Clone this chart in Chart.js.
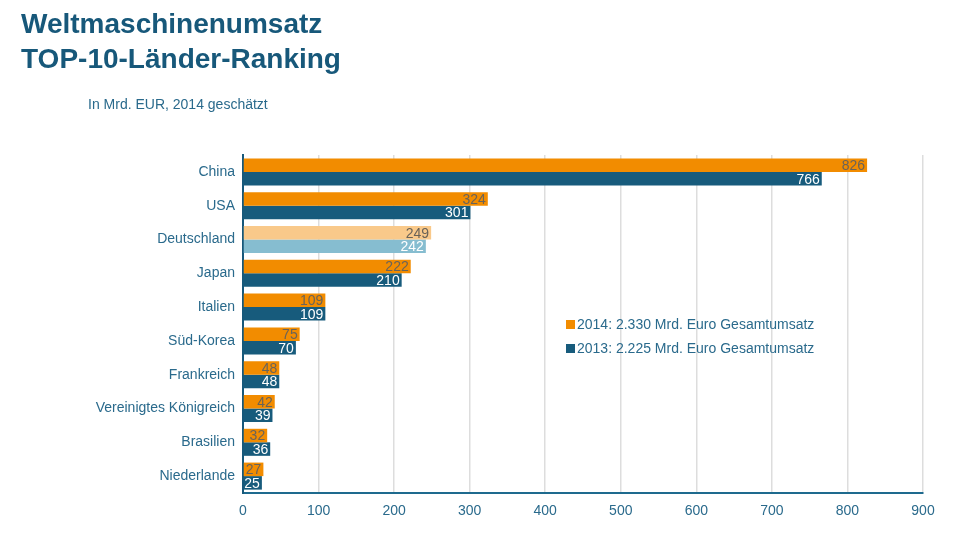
<!DOCTYPE html>
<html><head><meta charset="utf-8">
<script src="https://cdn.jsdelivr.net/npm/chart.js@4.4.1/dist/chart.umd.min.js"></script>
<style>
html,body{margin:0;padding:0;background:#fff;}
#wrap{position:relative;width:960px;height:539px;font-family:"Liberation Sans",Arial,sans-serif;}
#c{position:absolute;left:0;top:0;}
.t{position:absolute;left:21px;color:#17587A;font-weight:bold;font-size:28px;line-height:32px;}
.sub{position:absolute;left:88px;top:96px;color:#2A6A8C;font-size:14px;}
.leg{position:absolute;left:566px;color:#2A6A8C;font-size:14px;line-height:16px;}
.leg span{display:inline-block;width:9px;height:9px;margin-right:2px;vertical-align:0px;}
</style></head>
<body><div id="wrap">
<canvas id="c" width="960" height="539"></canvas>
<div class="t" style="top:8px">Weltmaschinenumsatz</div>
<div class="t" style="top:43px">TOP-10-Länder-Ranking</div>
<div class="sub">In Mrd. EUR, 2014 geschätzt</div>
<div class="leg" style="top:316px"><span style="background:#F28C00"></span>2014: 2.330 Mrd. Euro Gesamtumsatz</div>
<div class="leg" style="top:340px"><span style="background:#175B7C"></span>2013: 2.225 Mrd. Euro Gesamtumsatz</div>
</div>
<script>
const categories = ["China","USA","Deutschland","Japan","Italien","Süd-Korea","Frankreich","Vereinigtes Königreich","Brasilien","Niederlande"];
const values2014 = [826,324,249,222,109,75,48,42,32,27];
const values2013 = [766,301,242,210,109,70,48,39,36,25];
const xTicks = [0,100,200,300,400,500,600,700,800,900];

const ORANGE="#F28C00", ORANGE_L="#F9C98A", TEAL="#175B7C", TEAL_L="#86BDD0";
const hi = categories.map(c => c==="Deutschland");
const FONT='"Liberation Sans", Arial, sans-serif';

const labelPlugin = {
  id:'barLabels',
  afterDatasetsDraw(chart){
    const ctx=chart.ctx;
    ctx.save();
    ctx.font='14px '+FONT;
    ctx.textAlign='right';
    ctx.textBaseline='middle';
    chart.data.datasets.forEach((ds,di)=>{
      const meta=chart.getDatasetMeta(di);
      meta.data.forEach((bar,i)=>{
        ctx.fillStyle = di===0 ? "#6A6358" : "#FFFFFF";
        ctx.fillText(String(ds.data[i]), bar.x-2, bar.y+1);
      });
    });
    ctx.restore();
  }
};

new Chart(document.getElementById('c'),{
  type:'bar',
  data:{
    labels:categories,
    datasets:[
      {label:'2014',data:values2014,backgroundColor:hi.map(h=>h?ORANGE_L:ORANGE),categoryPercentage:0.8,barPercentage:1},
      {label:'2013',data:values2013,backgroundColor:hi.map(h=>h?TEAL_L:TEAL),categoryPercentage:0.8,barPercentage:1}
    ]
  },
  options:{
    indexAxis:'y',
    responsive:false,
    animation:false,
    layout:{padding:{left:0,top:155,right:37,bottom:0}},
    plugins:{legend:{display:false},tooltip:{enabled:false}},
    scales:{
      x:{
        min:0,max:900,
        afterBuildTicks:s=>{s.ticks=xTicks.map(v=>({value:v}));},
        afterFit:s=>{s.height=46;},
        ticks:{color:"#2A6A8C",font:{size:14,family:FONT},padding:10},
        grid:{color:"#DDDDDD",lineWidth:1.5,drawTicks:false},
        border:{color:"#1E6A8E",width:2}
      },
      y:{
        afterFit:s=>{s.width=243;},
        ticks:{color:"#2A6A8C",font:{size:14,family:FONT},padding:8},
        grid:{display:false,drawTicks:false},
        border:{color:"#17587A",width:2}
      }
    }
  },
  plugins:[labelPlugin]
});
</script>
</body></html>
